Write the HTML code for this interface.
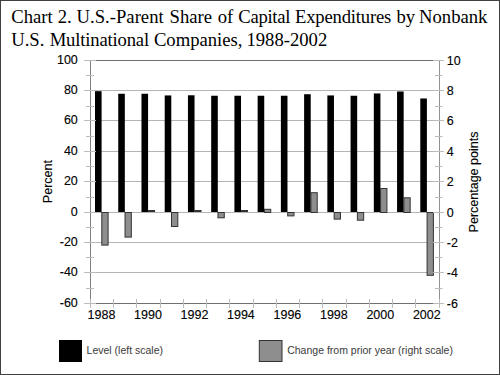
<!DOCTYPE html>
<html><head><meta charset="utf-8"><style>
html,body{margin:0;padding:0;background:#fff;}
body{width:500px;height:375px;position:relative;overflow:hidden;}
.frame{position:absolute;left:0;top:0;width:498px;height:373px;border:1px solid #404040;}
.tw{position:absolute;font-family:"Liberation Serif",serif;font-size:18.67px;line-height:22.5px;color:#000;white-space:nowrap;}
svg{position:absolute;left:0;top:0;}
svg text{font-family:"Liberation Sans",sans-serif;font-size:12.5px;fill:#000;stroke:#000;stroke-width:0.12px;}
svg text.lg{font-size:10.5px;fill:#3a3a3a;stroke:none;}
</style></head><body>
<div class="frame"></div>
<span class="tw" style="left:11.2px;top:6.1px">Chart</span><span class="tw" style="left:57.7px;top:6.1px">2.</span><span class="tw" style="left:76.6px;top:6.1px">U.S.-Parent</span><span class="tw" style="left:169.5px;top:6.1px">Share</span><span class="tw" style="left:217.7px;top:6.1px">of</span><span class="tw" style="left:238.3px;top:6.1px;letter-spacing:-0.3px">Capital</span><span class="tw" style="left:295.0px;top:6.1px;letter-spacing:-0.2px">Expenditures</span><span class="tw" style="left:396.4px;top:6.1px">by</span><span class="tw" style="left:419.0px;top:6.1px">Nonbank</span><span class="tw" style="left:11.2px;top:29.4px">U.S.</span><span class="tw" style="left:49.7px;top:29.4px;letter-spacing:-0.18px">Multinational</span><span class="tw" style="left:153.9px;top:29.4px">Companies,</span><span class="tw" style="left:246.4px;top:29.4px">1988-2002</span>
<svg width="500" height="375" viewBox="0 0 500 375">
<line x1="96" y1="90.5" x2="433" y2="90.5" stroke="#b4b4b4" stroke-width="1"/>
<line x1="96" y1="120.5" x2="433" y2="120.5" stroke="#b4b4b4" stroke-width="1"/>
<line x1="96" y1="151.5" x2="433" y2="151.5" stroke="#b4b4b4" stroke-width="1"/>
<line x1="96" y1="181.5" x2="433" y2="181.5" stroke="#b4b4b4" stroke-width="1"/>
<line x1="96" y1="212.5" x2="433" y2="212.5" stroke="#b4b4b4" stroke-width="1"/>
<line x1="96" y1="242.5" x2="433" y2="242.5" stroke="#b4b4b4" stroke-width="1"/>
<line x1="96" y1="272.5" x2="433" y2="272.5" stroke="#b4b4b4" stroke-width="1"/>
<line x1="96" y1="60.5" x2="433" y2="60.5" stroke="#707070" stroke-width="1"/>
<rect x="95.00" y="91.18" width="6.6" height="120.82" fill="#000"/>
<rect x="101.80" y="212.50" width="6.3" height="32.60" fill="#8e8e8e" stroke="#333333" stroke-width="1"/>
<rect x="118.23" y="93.76" width="6.6" height="118.24" fill="#000"/>
<rect x="125.03" y="212.50" width="6.3" height="24.60" fill="#8e8e8e" stroke="#333333" stroke-width="1"/>
<rect x="141.47" y="93.76" width="6.6" height="118.24" fill="#000"/>
<rect x="148.27" y="210.50" width="6.3" height="1.00" fill="#8e8e8e" stroke="#333333" stroke-width="1"/>
<rect x="164.70" y="95.43" width="6.6" height="116.57" fill="#000"/>
<rect x="171.50" y="212.50" width="6.3" height="14.00" fill="#8e8e8e" stroke="#333333" stroke-width="1"/>
<rect x="187.94" y="95.28" width="6.6" height="116.72" fill="#000"/>
<rect x="194.74" y="210.50" width="6.3" height="1.00" fill="#8e8e8e" stroke="#333333" stroke-width="1"/>
<rect x="211.18" y="95.74" width="6.6" height="116.26" fill="#000"/>
<rect x="217.97" y="212.50" width="6.3" height="5.30" fill="#8e8e8e" stroke="#333333" stroke-width="1"/>
<rect x="234.41" y="95.74" width="6.6" height="116.26" fill="#000"/>
<rect x="241.21" y="210.50" width="6.3" height="1.00" fill="#8e8e8e" stroke="#333333" stroke-width="1"/>
<rect x="257.64" y="95.74" width="6.6" height="116.26" fill="#000"/>
<rect x="264.44" y="209.30" width="6.3" height="3.20" fill="#8e8e8e" stroke="#333333" stroke-width="1"/>
<rect x="280.88" y="95.74" width="6.6" height="116.26" fill="#000"/>
<rect x="287.68" y="212.50" width="6.3" height="3.40" fill="#8e8e8e" stroke="#333333" stroke-width="1"/>
<rect x="304.12" y="94.22" width="6.6" height="117.78" fill="#000"/>
<rect x="310.92" y="192.70" width="6.3" height="19.80" fill="#8e8e8e" stroke="#333333" stroke-width="1"/>
<rect x="327.35" y="95.43" width="6.6" height="116.57" fill="#000"/>
<rect x="334.15" y="212.50" width="6.3" height="6.60" fill="#8e8e8e" stroke="#333333" stroke-width="1"/>
<rect x="350.58" y="95.74" width="6.6" height="116.26" fill="#000"/>
<rect x="357.38" y="212.50" width="6.3" height="7.70" fill="#8e8e8e" stroke="#333333" stroke-width="1"/>
<rect x="373.82" y="93.46" width="6.6" height="118.54" fill="#000"/>
<rect x="380.62" y="188.50" width="6.3" height="24.00" fill="#8e8e8e" stroke="#333333" stroke-width="1"/>
<rect x="397.06" y="91.48" width="6.6" height="120.52" fill="#000"/>
<rect x="403.86" y="197.80" width="6.3" height="14.70" fill="#8e8e8e" stroke="#333333" stroke-width="1"/>
<rect x="420.29" y="98.47" width="6.6" height="113.53" fill="#000"/>
<rect x="427.09" y="212.50" width="6.3" height="62.80" fill="#8e8e8e" stroke="#333333" stroke-width="1"/>
<line x1="90.5" y1="60.5" x2="90.5" y2="299" stroke="#808080" stroke-width="1"/>
<line x1="439.5" y1="60.5" x2="439.5" y2="299" stroke="#929292" stroke-width="1"/>
<line x1="96" y1="303.5" x2="433" y2="303.5" stroke="#707070" stroke-width="1"/>
<line x1="84" y1="60.5" x2="96" y2="60.5" stroke="#bcbcbc" stroke-width="1"/>
<text x="77.8" y="64.10" text-anchor="end">100</text>
<line x1="86" y1="75.5" x2="94" y2="75.5" stroke="#bcbcbc" stroke-width="1"/>
<line x1="84" y1="90.5" x2="96" y2="90.5" stroke="#bcbcbc" stroke-width="1"/>
<text x="77.8" y="94.10" text-anchor="end">80</text>
<line x1="86" y1="106.5" x2="94" y2="106.5" stroke="#bcbcbc" stroke-width="1"/>
<line x1="84" y1="120.5" x2="96" y2="120.5" stroke="#bcbcbc" stroke-width="1"/>
<text x="77.8" y="124.10" text-anchor="end">60</text>
<line x1="86" y1="136.5" x2="94" y2="136.5" stroke="#bcbcbc" stroke-width="1"/>
<line x1="84" y1="151.5" x2="96" y2="151.5" stroke="#bcbcbc" stroke-width="1"/>
<text x="77.8" y="155.10" text-anchor="end">40</text>
<line x1="86" y1="166.5" x2="94" y2="166.5" stroke="#bcbcbc" stroke-width="1"/>
<line x1="84" y1="181.5" x2="96" y2="181.5" stroke="#bcbcbc" stroke-width="1"/>
<text x="77.8" y="185.10" text-anchor="end">20</text>
<line x1="86" y1="197.5" x2="94" y2="197.5" stroke="#bcbcbc" stroke-width="1"/>
<line x1="84" y1="212.5" x2="96" y2="212.5" stroke="#bcbcbc" stroke-width="1"/>
<text x="77.8" y="216.10" text-anchor="end">0</text>
<line x1="86" y1="227.5" x2="94" y2="227.5" stroke="#bcbcbc" stroke-width="1"/>
<line x1="84" y1="242.5" x2="96" y2="242.5" stroke="#bcbcbc" stroke-width="1"/>
<text x="77.8" y="246.10" text-anchor="end">-20</text>
<line x1="86" y1="257.5" x2="94" y2="257.5" stroke="#bcbcbc" stroke-width="1"/>
<line x1="84" y1="272.5" x2="96" y2="272.5" stroke="#bcbcbc" stroke-width="1"/>
<text x="77.8" y="276.10" text-anchor="end">-40</text>
<line x1="86" y1="288.5" x2="94" y2="288.5" stroke="#bcbcbc" stroke-width="1"/>
<line x1="84" y1="303.5" x2="96" y2="303.5" stroke="#bcbcbc" stroke-width="1"/>
<text x="77.8" y="307.10" text-anchor="end">-60</text>
<line x1="433" y1="60.5" x2="444" y2="60.5" stroke="#bcbcbc" stroke-width="1"/>
<text x="446.8" y="64.80" text-anchor="start">10</text>
<line x1="435" y1="75.5" x2="442.5" y2="75.5" stroke="#bcbcbc" stroke-width="1"/>
<line x1="433" y1="90.5" x2="444" y2="90.5" stroke="#bcbcbc" stroke-width="1"/>
<text x="446.8" y="94.80" text-anchor="start">8</text>
<line x1="435" y1="106.5" x2="442.5" y2="106.5" stroke="#bcbcbc" stroke-width="1"/>
<line x1="433" y1="120.5" x2="444" y2="120.5" stroke="#bcbcbc" stroke-width="1"/>
<text x="446.8" y="124.80" text-anchor="start">6</text>
<line x1="435" y1="136.5" x2="442.5" y2="136.5" stroke="#bcbcbc" stroke-width="1"/>
<line x1="433" y1="151.5" x2="444" y2="151.5" stroke="#bcbcbc" stroke-width="1"/>
<text x="446.8" y="155.80" text-anchor="start">4</text>
<line x1="435" y1="166.5" x2="442.5" y2="166.5" stroke="#bcbcbc" stroke-width="1"/>
<line x1="433" y1="181.5" x2="444" y2="181.5" stroke="#bcbcbc" stroke-width="1"/>
<text x="446.8" y="185.80" text-anchor="start">2</text>
<line x1="435" y1="197.5" x2="442.5" y2="197.5" stroke="#bcbcbc" stroke-width="1"/>
<line x1="433" y1="212.5" x2="444" y2="212.5" stroke="#bcbcbc" stroke-width="1"/>
<text x="446.8" y="216.80" text-anchor="start">0</text>
<line x1="435" y1="227.5" x2="442.5" y2="227.5" stroke="#bcbcbc" stroke-width="1"/>
<line x1="433" y1="242.5" x2="444" y2="242.5" stroke="#bcbcbc" stroke-width="1"/>
<text x="446.8" y="246.80" text-anchor="start">-2</text>
<line x1="435" y1="257.5" x2="442.5" y2="257.5" stroke="#bcbcbc" stroke-width="1"/>
<line x1="433" y1="272.5" x2="444" y2="272.5" stroke="#bcbcbc" stroke-width="1"/>
<text x="446.8" y="276.80" text-anchor="start">-4</text>
<line x1="435" y1="288.5" x2="442.5" y2="288.5" stroke="#bcbcbc" stroke-width="1"/>
<line x1="433" y1="303.5" x2="444" y2="303.5" stroke="#bcbcbc" stroke-width="1"/>
<text x="446.8" y="307.80" text-anchor="start">-6</text>
<line x1="90.5" y1="299" x2="90.5" y2="308" stroke="#bcbcbc" stroke-width="1"/>
<line x1="113.5" y1="299" x2="113.5" y2="308" stroke="#bcbcbc" stroke-width="1"/>
<line x1="136.5" y1="299" x2="136.5" y2="308" stroke="#bcbcbc" stroke-width="1"/>
<line x1="160.5" y1="299" x2="160.5" y2="308" stroke="#bcbcbc" stroke-width="1"/>
<line x1="183.5" y1="299" x2="183.5" y2="308" stroke="#bcbcbc" stroke-width="1"/>
<line x1="206.5" y1="299" x2="206.5" y2="308" stroke="#bcbcbc" stroke-width="1"/>
<line x1="229.5" y1="299" x2="229.5" y2="308" stroke="#bcbcbc" stroke-width="1"/>
<line x1="253.5" y1="299" x2="253.5" y2="308" stroke="#bcbcbc" stroke-width="1"/>
<line x1="276.5" y1="299" x2="276.5" y2="308" stroke="#bcbcbc" stroke-width="1"/>
<line x1="299.5" y1="299" x2="299.5" y2="308" stroke="#bcbcbc" stroke-width="1"/>
<line x1="322.5" y1="299" x2="322.5" y2="308" stroke="#bcbcbc" stroke-width="1"/>
<line x1="346.5" y1="299" x2="346.5" y2="308" stroke="#bcbcbc" stroke-width="1"/>
<line x1="369.5" y1="299" x2="369.5" y2="308" stroke="#bcbcbc" stroke-width="1"/>
<line x1="392.5" y1="299" x2="392.5" y2="308" stroke="#bcbcbc" stroke-width="1"/>
<line x1="415.5" y1="299" x2="415.5" y2="308" stroke="#bcbcbc" stroke-width="1"/>
<line x1="439.5" y1="299" x2="439.5" y2="308" stroke="#bcbcbc" stroke-width="1"/>
<text x="101.52" y="319.3" text-anchor="middle">1988</text>
<text x="147.99" y="319.3" text-anchor="middle">1990</text>
<text x="194.46" y="319.3" text-anchor="middle">1992</text>
<text x="240.93" y="319.3" text-anchor="middle">1994</text>
<text x="287.40" y="319.3" text-anchor="middle">1996</text>
<text x="333.87" y="319.3" text-anchor="middle">1998</text>
<text x="380.34" y="319.3" text-anchor="middle">2000</text>
<text x="426.81" y="319.3" text-anchor="middle">2002</text>
<text transform="translate(52,181.6) rotate(-90)" text-anchor="middle">Percent</text>
<text transform="translate(478,182) rotate(-90)" text-anchor="middle">Percentage points</text>
<rect x="59" y="340" width="23" height="22" fill="#000"/>
<text x="86.6" y="354" class="lg">Level (left scale)</text>
<rect x="259.3" y="340.5" width="22.7" height="21" fill="#8e8e8e" stroke="#333333" stroke-width="1"/>
<text x="287.2" y="354" class="lg">Change from prior year (right scale)</text>
</svg>
</body></html>
